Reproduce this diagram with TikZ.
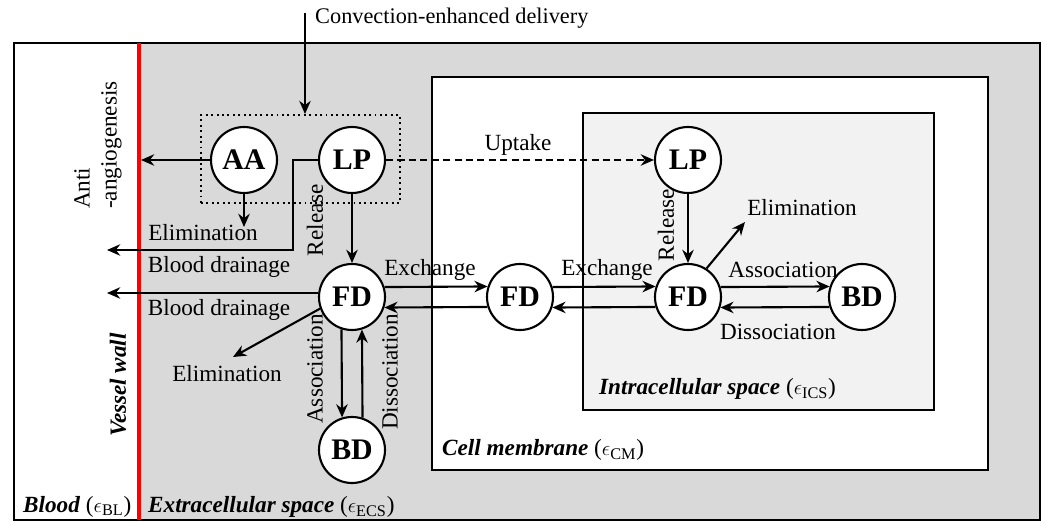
\documentclass[tikz,border=0pt]{standalone}
\usepackage{fontspec}
\setmainfont{Liberation Serif}
\usetikzlibrary{arrows.meta}
\definecolor{ecsgray}{RGB}{217,217,217}
\definecolor{icsgray}{RGB}{242,242,242}
\newcommand{\regionfont}[1]{\textbf{\textit{#1}}}

\begin{document}
\begin{tikzpicture}[x=0.02cm,y=-0.02cm,
  font=\fontsize{13.2}{15.4}\selectfont,
  >={Stealth[length=7.5pt,width=6.5pt]}]
\tikzstyle{species}=[circle,draw,line width=1.2pt,fill=white,minimum size=1.32cm,inner sep=0pt,font=\fontsize{17}{19}\selectfont\bfseries]
\tikzstyle{flow}=[->,line width=1.2pt]
\tikzstyle{region}=[line width=1.5pt]
\tikzstyle{vlabel}=[rotate=90]
\useasboundingbox (0,0) rectangle (1048,523);
% compartments
\fill[ecsgray] (139,43) rectangle (1040,520);
\draw[region,fill=white] (432,77) rectangle (988,470);
\draw[region,fill=icsgray] (583,113) rectangle (934,410);
\draw[region] (14,43) rectangle (1040,520);
\draw[red,line width=2pt] (139,43) -- (139,520);
\node[draw,dotted,line width=1.1pt,minimum width=3.98cm,minimum height=1.76cm] (carrier) at (300.5,159) {};
% species
\node[species] (AA) at (244,160) {AA};
\node[species] (LPe) at (352,160) {LP};
\node[species] (FDe) at (352,297) {FD};
\node[species] (BDe) at (352,450) {BD};
\node[species] (FDm) at (520,297) {FD};
\node[species] (LPi) at (688,160) {LP};
\node[species] (FDi) at (688,297) {FD};
\node[species] (BDi) at (862,297) {BD};
% free ends
\coordinate (cedtop) at (305,13);
\coordinate (wallAA) at (141,160);
\coordinate (elimAAend) at (244,227);
\coordinate (bendLP) at (293,250);
\coordinate (drainLP) at (107,250);
\coordinate (drainFD) at (107,293);
\coordinate (elimFDend) at (233,357);
\coordinate (elimICSend) at (745,222);
% labels
\node[anchor=west,font=\fontsize{12.7}{14}\selectfont] (ced) at (309,18) {Convection-enhanced delivery};
\node[vlabel,anchor=west,align=left] (anti) at (98,215) {Anti\\-angiogenesis};
\node (elimAA) at (203,233) {Elimination};
\node (drainLPlab) at (219,267) {Blood drainage};
\node (drainFDlab) at (219,310) {Blood drainage};
\node (elimFD) at (227,374) {Elimination};
\node[vlabel] (relE) at (315,220) {Release};
\node[vlabel] (assE) at (315,369) {Association};
\node[vlabel] (disE) at (390,372) {Dissociation};
\node (exch1) at (430,270) {Exchange};
\node (exch2) at (607,270) {Exchange};
\node (upt) at (518,145) {Uptake};
\node[vlabel] (relI) at (666,225) {Release};
\node (elimI) at (802,208) {Elimination};
\node (assI) at (783,270) {Association};
\node (disI) at (778,332) {Dissociation};
\node[vlabel] (wall) at (118,385) {\regionfont{Vessel wall}};
\node[anchor=west] (blood) at (17,507) {\regionfont{Blood} ($\epsilon_{\mathrm{BL}}$)};
\node[anchor=west] (ecs) at (142,507) {\regionfont{Extracellular space} ($\epsilon_{\mathrm{ECS}}$)};
\node[anchor=west] (cm) at (436,450) {\regionfont{Cell membrane} ($\epsilon_{\mathrm{CM}}$)};
\node[anchor=west] (ics) at (593,389) {\regionfont{Intracellular space} ($\epsilon_{\mathrm{ICS}}$)};
% connectors
\draw[flow] (cedtop) -- (cedtop |- carrier.north);
\draw[flow] (AA) -- (wallAA);
\draw[flow] (AA) -- (elimAAend);
\draw[flow] (LPe.west) -| (bendLP) -- (drainLP);
\draw[flow] (LPe) -- (FDe);
\draw[flow] (FDe.west |- drainFD) -- (drainFD);
\draw[flow] (FDe.200) -- (elimFDend);
\draw[flow] (FDe.252.4) -- (BDe.107.6);
\draw[flow] (BDe.72.4) -- (FDe.287.6);
\draw[flow] (FDe.17.6) -- (FDm.162.4);
\draw[flow] (FDm.197.6) -- (FDe.342.4);
\draw[flow] (FDm.17.6) -- (FDi.162.4);
\draw[flow] (FDi.197.6) -- (FDm.342.4);
\draw[flow,dash pattern=on 4pt off 2.5pt] (LPe) -- (LPi);
\draw[flow] (LPi) -- (FDi);
\draw[flow] (FDi.57) -- (elimICSend);
\draw[flow] (FDi.17.6) -- (BDi.162.4);
\draw[flow] (BDi.197.6) -- (FDi.342.4);
\end{tikzpicture}
\end{document}
